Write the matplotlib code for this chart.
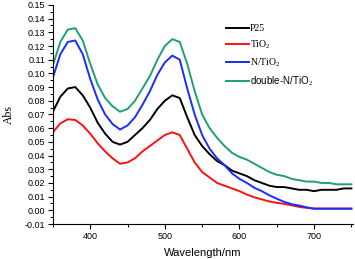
import numpy as np
import matplotlib
matplotlib.use("Agg")
import matplotlib.pyplot as plt
from matplotlib.ticker import MultipleLocator

wavelength = list(range(350, 751, 10))

p25 = [0.072, 0.083, 0.089, 0.090, 0.084, 0.075, 0.064, 0.056, 0.050, 0.048,
       0.050, 0.055, 0.060, 0.066, 0.074, 0.080, 0.084, 0.082, 0.068, 0.055,
       0.047, 0.041, 0.036, 0.033, 0.029, 0.027, 0.025, 0.022, 0.020, 0.018,
       0.017, 0.017, 0.016, 0.015, 0.015, 0.014, 0.015, 0.015, 0.015, 0.016,
       0.016]
tio2 = [0.057, 0.0635, 0.0665, 0.066, 0.062, 0.056, 0.049, 0.043, 0.038, 0.034,
        0.035, 0.038, 0.043, 0.047, 0.051, 0.055, 0.057, 0.055, 0.045, 0.035,
        0.028, 0.024, 0.020, 0.018, 0.016, 0.014, 0.0115, 0.0095, 0.008, 0.0065,
        0.0055, 0.0047, 0.0037, 0.0025, 0.0018, 0.0013, 0.0013, 0.0013, 0.0013, 0.0013,
        0.0013]
n_tio2 = [0.097, 0.114, 0.123, 0.124, 0.114, 0.096, 0.081, 0.070, 0.063, 0.059,
          0.062, 0.068, 0.077, 0.087, 0.099, 0.108, 0.113, 0.110, 0.089, 0.070,
          0.055, 0.045, 0.038, 0.033, 0.027, 0.023, 0.020, 0.0165, 0.014, 0.011,
          0.0085, 0.0062, 0.0045, 0.0035, 0.0022, 0.0012, 0.0012, 0.0012, 0.0012, 0.0012,
          0.0012]
double_n_tio2 = [0.106, 0.123, 0.132, 0.133, 0.124, 0.107, 0.092, 0.082, 0.076, 0.072,
                 0.074, 0.080, 0.089, 0.098, 0.110, 0.120, 0.125, 0.123, 0.107, 0.087,
                 0.070, 0.060, 0.053, 0.047, 0.042, 0.039, 0.037, 0.034, 0.031, 0.028,
                 0.026, 0.025, 0.023, 0.022, 0.021, 0.021, 0.020, 0.020, 0.019, 0.019,
                 0.019]

labels = ["P25", "TiO$_2$", "N/TiO$_2$", "double-N/TiO$_2$"]
colors = ["#000000", "#ff1010", "#1a2cff", "#1f9e78"]

plt.rcParams['font.family'] = ['Liberation Sans', 'DejaVu Sans']
plt.rcParams['mathtext.fontset'] = 'custom'
plt.rcParams['mathtext.rm'] = 'Liberation Serif'
plt.rcParams['mathtext.it'] = 'Liberation Serif'

fig = plt.figure(figsize=(3.55, 2.59), dpi=100)
ax = fig.add_axes([0.149, 0.135, 0.845, 0.846])

for series, label, color in zip([p25, tio2, n_tio2, double_n_tio2], labels, colors):
    ax.plot(wavelength, series, color=color, lw=1.4, label=label)

ax.set_xlim(350, 752)
ax.set_ylim(-0.01, 0.15)
ax.xaxis.set_major_locator(MultipleLocator(100))
ax.xaxis.set_minor_locator(MultipleLocator(50))
ax.yaxis.set_major_locator(MultipleLocator(0.01))
ax.yaxis.set_minor_locator(MultipleLocator(0.005))
ax.yaxis.set_major_formatter(matplotlib.ticker.FormatStrFormatter('%.2f'))
ax.tick_params(which='major', length=3.5, width=0.8, labelsize=6.5, pad=2)
ax.tick_params(which='minor', length=2, width=0.7)
for s in ['top', 'right']:
    ax.spines[s].set_visible(False)
for s in ['left', 'bottom']:
    ax.spines[s].set_linewidth(0.8)

ax.set_xlabel("Wavelength/nm", fontsize=8, labelpad=5)
ax.set_ylabel("Abs", fontsize=8.5, family='Liberation Serif', labelpad=7)

leg = ax.legend(loc='upper left', bbox_to_anchor=(0.565, 0.93), frameon=False,
                fontsize=7, handlelength=2.3, handletextpad=0.1,
                labelspacing=0.55, borderaxespad=0)
for t in leg.get_texts()[:3]:
    t.set_family('Liberation Serif')

fig.savefig("out.png", dpi=100)
